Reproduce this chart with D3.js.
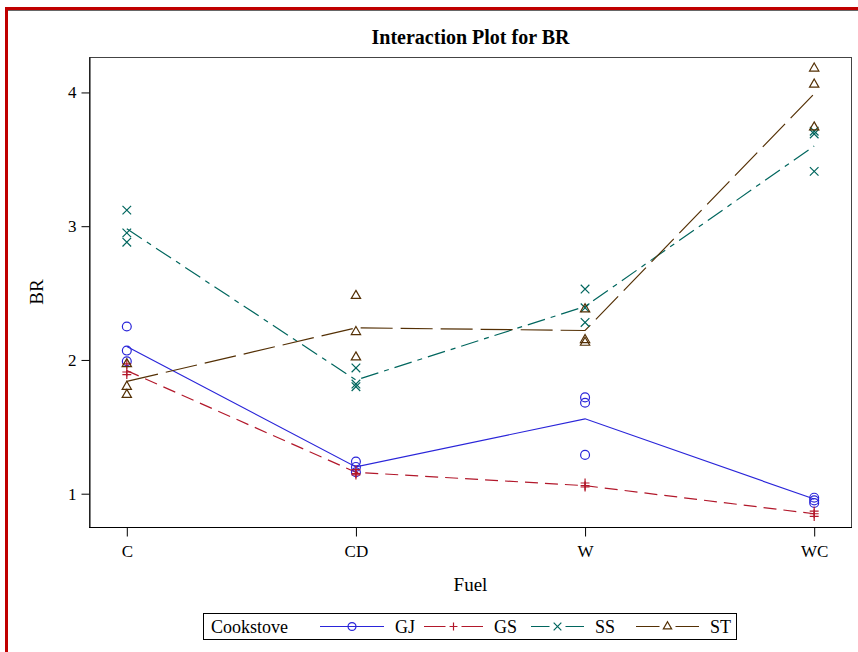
<!DOCTYPE html>
<html>
<head>
<meta charset="utf-8">
<script src="https://cdn.jsdelivr.net/npm/d3@7"></script>
<style>
    body { margin: 0; background: #fff; }
    svg text { font-family: "Liberation Serif", "Times New Roman", serif; fill: #000; }
</style>
</head>
<body>
<div id="chart"></div>
<script>
// categories
const fuels = ['C', 'CD', 'W', 'WC'];
const cookstoves = ['GJ', 'GS', 'SS', 'ST'];
const yTicks = [1, 2, 3, 4];

const gjObs = [[2.25, 2.07, 1.99], [1.24, 1.20, 1.16], [1.72, 1.68, 1.29], [0.97, 0.95, 0.93]];
const gsObs = [[1.97, 1.91, 1.89], [1.18, 1.15, 1.14], [1.08, 1.06, 1.05], [0.87, 0.85, 0.83]];
const ssObs = [[3.12, 2.95, 2.88], [1.94, 1.82, 1.80], [2.53, 2.39, 2.28], [3.71, 3.69, 3.41]];
const stObs = [[1.97, 1.80, 1.74], [2.48, 2.21, 2.02], [2.38, 2.15, 2.13], [4.18, 4.06, 3.74]];

// cell means (the connecting lines)
const gjMean = [2.10, 1.20, 1.56, 0.96];
const gsMean = [1.92, 1.16, 1.06, 0.85];
const ssMean = [2.98, 1.85, 2.40, 3.60];
const stMean = [1.84, 2.24, 2.22, 3.99];

const series = [
    { name: 'GJ', obs: gjObs, mean: gjMean, color: '#2A25D9', dash: null, symbol: d3.symbolCircle, size: 62 },
    { name: 'GS', obs: gsObs, mean: gsMean, color: '#B2182B', dash: '13,7', symbol: d3.symbolPlus, size: 28 },
    { name: 'SS', obs: ssObs, mean: ssMean, color: '#01665E', dash: '18,6,5,6', symbol: d3.symbolTimes, size: 50 },
    { name: 'ST', obs: stObs, mean: stMean, color: '#543005', dash: '32,8', symbol: d3.symbolTriangle2, size: 62 }
];

const W = 858, H = 652;
const margin = { top: 57, right: 6, bottom: 125, left: 89 };

const svg = d3.select('#chart').append('svg')
    .attr('width', W)
    .attr('height', H);

// page border
svg.append('line').attr('x1', 6.5).attr('x2', 6.5).attr('y1', 7).attr('y2', H)
    .attr('stroke', '#c00000').attr('stroke-width', 3);
svg.append('line').attr('x1', 5).attr('x2', W).attr('y1', 8.5).attr('y2', 8.5)
    .attr('stroke', '#c00000').attr('stroke-width', 3);
svg.append('line').attr('x1', 8).attr('x2', W).attr('y1', 10.5).attr('y2', 10.5)
    .attr('stroke', '#666').attr('stroke-width', 1);

const x = d3.scalePoint()
    .domain(fuels)
    .range([margin.left, W - margin.right - 0])
    .padding(0.165);
const y = d3.scaleLinear()
    .domain([0.751, 4.265])
    .range([H - margin.bottom, margin.top]);

const plotW = W - margin.right - margin.left;
const plotH = H - margin.bottom - margin.top;

// frame
svg.append('rect')
    .attr('x', margin.left + 0.5)
    .attr('y', margin.top + 0.5)
    .attr('width', plotW - 1)
    .attr('height', plotH)
    .attr('fill', 'none')
    .attr('stroke', '#444');

// title
svg.append('text')
    .attr('x', margin.left + plotW / 2)
    .attr('y', 44)
    .attr('text-anchor', 'middle')
    .style('font-size', '20px')
    .style('font-weight', 'bold')
    .text('Interaction Plot for BR');

// axes
const xAxis = svg.append('g')
    .attr('transform', `translate(0,${H - margin.bottom + 0.5})`)
    .call(d3.axisBottom(x).tickSize(9).tickPadding(8).tickSizeOuter(0));
const yAxis = svg.append('g')
    .attr('transform', `translate(${margin.left + 0.5},0)`)
    .call(d3.axisLeft(y).tickValues(yTicks).tickFormat(d3.format('d')).tickSize(8).tickPadding(5).tickSizeOuter(0));

[xAxis, yAxis].forEach(g => {
    g.select('.domain').attr('stroke', '#000');
    g.selectAll('.tick line').attr('stroke', '#000');
    g.selectAll('.tick text')
        .style('font-family', '"Liberation Serif", serif')
        .style('font-size', '17px')
        .attr('fill', '#000');
});
// keep the x domain line across the full frame
xAxis.select('.domain').attr('d', `M${margin.left},0H${W - margin.right}`);

svg.append('text')
    .attr('x', margin.left + plotW / 2)
    .attr('y', 591)
    .attr('text-anchor', 'middle')
    .style('font-size', '19px')
    .text('Fuel');

svg.append('text')
    .attr('transform', `translate(43,${margin.top + plotH / 2}) rotate(-90)`)
    .attr('text-anchor', 'middle')
    .style('font-size', '19px')
    .text('BR');

// lines through cell means
const line = d3.line()
    .x((d, i) => x(fuels[i]))
    .y(d => y(d));

series.forEach(s => {
    svg.append('path')
        .datum(s.mean)
        .attr('fill', 'none')
        .attr('stroke', s.color)
        .attr('stroke-width', 1.2)
        .attr('stroke-dasharray', s.dash)
        .attr('d', line);
});

// observation markers
series.forEach(s => {
    const pts = [];
    s.obs.forEach((vals, i) => vals.forEach(v => pts.push({ fuel: fuels[i], v: v })));
    svg.append('g').selectAll('path')
        .data(pts)
        .enter().append('path')
        .attr('transform', d => `translate(${x(d.fuel)},${y(d.v)})`)
        .attr('d', d3.symbol().type(s.symbol).size(s.size))
        .attr('fill', 'none')
        .attr('stroke', s.color)
        .attr('stroke-width', 1.2);
});

// legend
const legend = svg.append('g');
legend.append('rect')
    .attr('x', 203.5).attr('y', 613.5)
    .attr('width', 533).attr('height', 26)
    .attr('fill', '#fff').attr('stroke', '#000');
legend.append('text')
    .attr('x', 211).attr('y', 633)
    .style('font-size', '18px')
    .text('Cookstove');

const legendX = [320, 424, 531, 636];
const legendLen = [64, 59, 53, 63];
series.forEach((s, i) => {
    const x0 = legendX[i], x1 = x0 + legendLen[i], cy = 626.5;
    legend.append('line')
        .attr('x1', x0).attr('x2', x1)
        .attr('y1', cy).attr('y2', cy)
        .attr('stroke', s.color)
        .attr('stroke-width', 1.2)
        .attr('stroke-dasharray', s.dash ? `${(x1 - x0) / 2 - 8},16` : null);
    legend.append('path')
        .attr('transform', `translate(${(x0 + x1) / 2},${cy})`)
        .attr('d', d3.symbol().type(s.symbol).size(s.size * 0.8))
        .attr('fill', 'none')
        .attr('stroke', s.color)
        .attr('stroke-width', 1.2);
    legend.append('text')
        .attr('x', x1 + 11).attr('y', 633)
        .style('font-size', '18px')
        .text(s.name);
});
</script>
</body>
</html>
